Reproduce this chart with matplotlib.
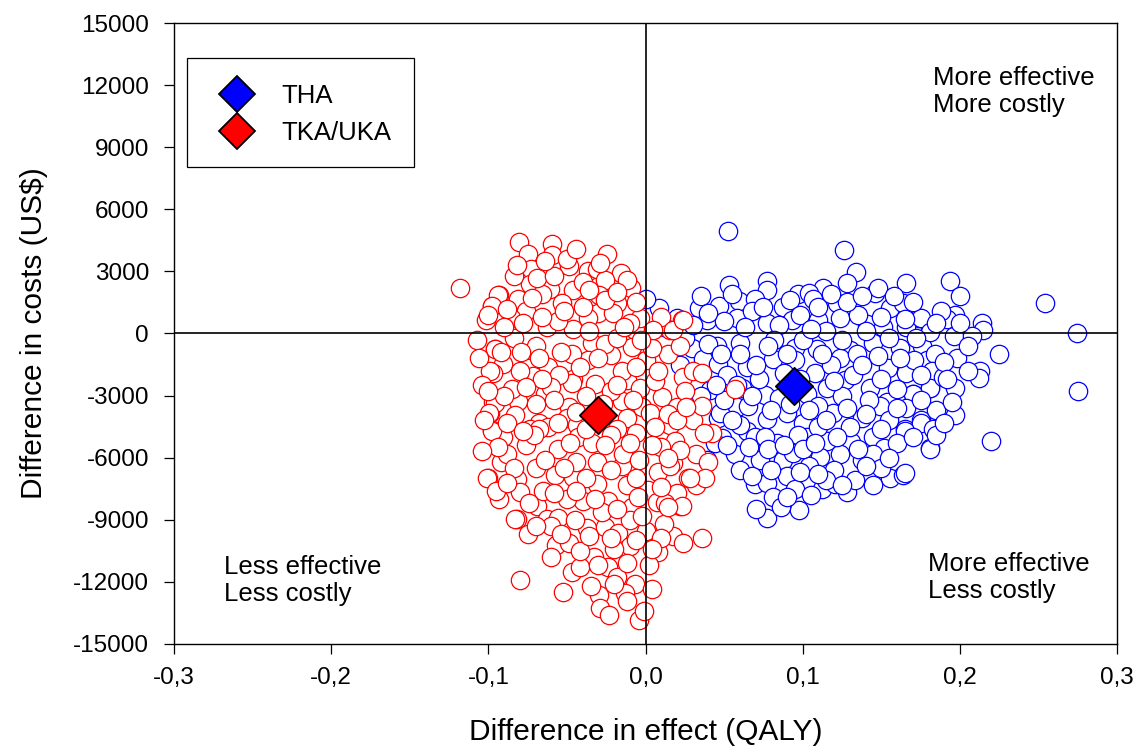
import numpy as np
import matplotlib
matplotlib.use('Agg')
import matplotlib.pyplot as plt
from matplotlib.lines import Line2D
from matplotlib.patches import Rectangle
from matplotlib.ticker import FuncFormatter

plt.rcParams['font.family'] = ['Liberation Sans', 'DejaVu Sans']

# bootstrap replicates: (difference in QALY, difference in cost US$)
tka_points = [
    (-0.0805, 4400), (-0.0595, 4300), (-0.075, 3860), (-0.0595, 3770), (-0.0245, 3860),
    (-0.0487, 3240), (-0.073, 3140), (-0.0366, 3040), (-0.031, 3140), (-0.0156, 2900),
    (-0.0258, 2600), (-0.0735, 2400), (-0.118, 2220), (-0.093, 1840), (-0.081, 1690),
    (-0.061, 2170), (-0.046, 2080), (-0.0296, 1880), (-0.009, 2220), (-0.0976, 1350),
    (-0.076, 1110), (-0.053, 1450), (-0.030, 970), (-0.018, 1450), (-0.1015, 630),
    (-0.0856, 770), (-0.063, 290), (-0.046, 240), (-0.0366, 770), (-0.0067, 145),
    (-0.0035, 770), (0.0156, 145), (0.023, 630), (-0.0957, -725), (-0.0837, -240),
    (-0.070, -580), (-0.034, -435), (-0.0086, -630), (-0.097, -1400), (-0.0907, -1450),
    (-0.075, -1690), (-0.062, -1640), (-0.046, -2220), (-0.0366, -1300), (-0.022, -1060),
    (0.000, -1300), (0.014, -970), (0.024, -2120), (-0.097, -1930), (-0.0716, -2030),
    (-0.062, -2510), (-0.047, -2370), (-0.032, -2420), (-0.0118, -2270), (-0.0035, -2610),
    (-0.097, -3330), (-0.081, -3240), (-0.064, -2900), (-0.049, -3570), (-0.015, -3240),
    (-0.002, -3570), (0.003, -3860), (0.0105, -3090), (0.020, -3570), (-0.099, -3860),
    (-0.083, -3960), (-0.068, -4300), (-0.050, -4100), (-0.0118, -4060), (-0.097, -4690),
    (-0.0735, -4590), (-0.062, -4540), (-0.0436, -4440), (-0.018, -4590), (0.0156, -4440),
    (-0.0976, -4640), (-0.0907, -5020), (-0.068, -4590), (-0.043, -5020), (-0.031, -6230),
    (-0.015, -6380), (-0.0143, -5840), (0.0188, -5170), (0.0175, -6280), (0.027, -6960),
    (-0.092, -6230), (-0.100, -6960), (-0.082, -7050), (-0.070, -6520), (-0.0576, -6860),
    (-0.046, -6910), (-0.031, -7250), (-0.0118, -7340), (0.0016, -7580), (0.0073, -8160),
    (0.022, -8310), (-0.080, -7680), (-0.069, -8310), (-0.040, -8070), (-0.024, -8070),
    (-0.0086, -8400), (-0.082, -8940), (-0.0627, -8940), (-0.0557, -8890), (-0.037, -9420),
    (-0.026, -9370), (-0.0175, -9660), (-0.010, -10290), (0.000, -9520), (0.008, -10580),
    (0.0175, -9760), (0.024, -10140), (-0.057, -10240), (-0.049, -10100), (-0.033, -10820),
    (-0.047, -11540), (-0.042, -11300), (-0.024, -11300), (-0.018, -11780), (-0.0067, -12080),
    (0.0041, -12320), (-0.080, -11930), (-0.0525, -12510), (-0.0296, -12650), (-0.013, -12560),
    (-0.029, -13280), (-0.023, -13620), (-0.004, -13860), (-0.001, -13430),
    (-0.094, 1840), (-0.098, 1350), (-0.096, -725), (-0.099, -1790), (-0.096, -3380),
    (-0.0996, -3860), (-0.0977, -4690), (-0.101, -6960), (-0.083, -8940),
    (-0.088, 1200), (-0.066, 1900), (-0.040, 2500), (-0.021, 1000), (-0.010, 500),
    (-0.056, 600), (-0.079, -900), (-0.047, -1000), (-0.026, -500), (-0.015, -1800),
    (0.006, -2300), (-0.085, -2700), (-0.055, -2000), (-0.038, -3000), (-0.022, -2800),
    (-0.006, -4800), (0.010, -5500), (0.030, -4200), (0.032, -5800), (-0.088, -5800),
    (-0.076, -5400), (-0.056, -5600), (-0.034, -5300), (-0.022, -4900), (-0.004, -6100),
    (0.008, -6700), (-0.065, -7600), (-0.050, -8000), (-0.028, -8600), (-0.010, -9000),
    (0.012, -9200), (-0.075, -9700), (-0.042, -10500), (-0.020, -10400), (-0.060, -9300),
    (0.002, -11200), (-0.012, -12900), (-0.035, -12200), (-0.093, -8000), (-0.071, -4900),
    (-0.044, -6200), (-0.060, -2600), (-0.068, -1200), (-0.036, 100), (-0.018, -200),
    (0.004, -700), (0.025, -2800), (0.014, -3900), (-0.006, 1500), (0.010, 800),
    (-0.050, 3600), (-0.029, 3400), (-0.012, 2600), (-0.069, 2700), (-0.084, 2800),
    (-0.100, 900), (-0.107, -300), (-0.104, -2500), (-0.103, -4200), (-0.095, -7600),
    (-0.045, -9000), (-0.005, -7900), (0.020, -7700), (0.032, -7300), (0.040, -6200),
    (0.042, -4800), (0.036, -3500), (0.030, -1800), (0.022, -600), (0.057, -2700),
    (0.005, 145), (0.0175, 145), (0.024, 630), (0.036, -1930), (0.037, -4830),
    (0.038, -6960), (0.028, -6960), (0.020, -4200), (0.022, -5650), (0.026, -3570),
    (0.0156, -6380), (0.0124, -8210), (0.023, -8310), (0.036, -9880),
    (-0.090, 300), (-0.078, 500), (-0.066, 800), (-0.052, 1100), (-0.040, 1300),
    (-0.026, 1600), (-0.014, 300), (-0.003, -300), (-0.092, -900), (-0.080, -1800),
    (-0.066, -2200), (-0.054, -900), (-0.042, -1600), (-0.030, -1200), (-0.018, -2500),
    (-0.006, -1600), (0.008, -1800), (-0.090, -3000), (-0.076, -2600), (-0.070, -3400),
    (-0.058, -3200), (-0.044, -3800), (-0.027, -3400), (-0.008, -3200), (0.006, -4500),
    (-0.088, -4300), (-0.078, -4700), (-0.056, -4300), (-0.048, -5300), (-0.038, -4600),
    (-0.026, -5400), (-0.010, -5300), (0.004, -5400), (0.014, -6000), (-0.094, -5500),
    (-0.084, -6500), (-0.064, -6100), (-0.052, -6500), (-0.038, -7000), (-0.022, -6600),
    (-0.006, -7000), (0.010, -7400), (-0.088, -7200), (-0.074, -8200), (-0.058, -7700),
    (-0.044, -7600), (-0.032, -8000), (-0.018, -8500), (-0.002, -8800), (0.014, -8400),
    (-0.070, -9300), (-0.054, -9700), (-0.036, -9800), (-0.022, -9900), (-0.006, -10000),
    (0.010, -9900), (-0.060, -10800), (-0.030, -11200), (-0.012, -11100), (0.004, -10400),
    (-0.020, -12100), (-0.072, 1700), (-0.058, 2800), (-0.036, 2100), (-0.018, 2000),
    (-0.082, 3300), (-0.064, 3500), (-0.044, 4100), (-0.100, -2800), (-0.106, -1200),
    (-0.104, -5700),
]

tha_points = [
    (0.0525, 4930), (0.126, 4010), (0.134, 2950), (0.128, 2460), (0.166, 2460),
    (0.146, 1980), (0.148, 2220), (0.077, 2560), (0.053, 2320), (0.113, 2220),
    (0.097, 1930), (0.104, 1980), (0.077, 2080), (0.0595, 1590), (0.034, 1210),
    (0.0086, 1210), (0.000, 1690), (0.047, 1350), (0.0696, 1690), (0.0875, 1260),
    (0.1066, 1690), (0.122, 1450), (0.1556, 1210), (0.164, 1450), (0.174, 770),
    (0.181, 145), (0.020, 770), (0.039, 630), (0.058, 770), (0.077, 530),
    (0.093, 630), (0.110, 630), (0.124, 770), (0.141, 480), (0.151, 290),
    (0.166, 290), (0.0295, -680), (0.0455, -580), (0.060, -480), (0.082, -725),
    (0.095, -680), (0.109, -725), (0.130, -820), (0.145, -480), (0.162, -680),
    (0.176, -580), (0.0366, -1210), (0.046, -1450), (0.0646, -1640), (0.081, -1210),
    (0.095, -1300), (0.108, -1930), (0.124, -1160), (0.1345, -970), (0.154, -1690),
    (0.166, -1930), (0.179, -1300), (0.181, -2610), (0.170, -2900), (0.041, -2750),
    (0.0614, -2610), (0.076, -2990), (0.1155, -2610), (0.127, -2270), (0.143, -2610),
    (0.1535, -3330), (0.046, -4060), (0.058, -3570), (0.077, -4110), (0.090, -3860),
    (0.100, -4300), (0.119, -3860), (0.138, -4060), (0.149, -3480), (0.175, -4200),
    (0.165, -4590), (0.0487, -5070), (0.0646, -4690), (0.0696, -5020), (0.0837, -5310),
    (0.1027, -5020), (0.1155, -5170), (0.131, -5260), (0.145, -5020), (0.152, -5550),
    (0.181, -5550), (0.057, -5800), (0.073, -6130), (0.0875, -6130), (0.094, -5750),
    (0.111, -5990), (0.124, -5800), (0.138, -6130), (0.0696, -7250), (0.077, -7200),
    (0.081, -7920), (0.112, -7490), (0.1205, -7250), (0.128, -7680), (0.1556, -7000),
    (0.164, -6860), (0.0976, -8550), (0.077, -8890), (0.0474, -3860), (0.044, -5310),
    (0.039, -6130),
    (0.194, 2560), (0.254, 1450), (0.2745, 0), (0.275, -2800), (0.214, 530),
    (0.215, 190), (0.197, 870), (0.192, 680), (0.175, 770), (0.181, 50),
    (0.196, -100), (0.208, -145), (0.225, -1010), (0.198, -1160), (0.184, -970),
    (0.171, -1300), (0.182, -1790), (0.213, -1790), (0.2125, -2170), (0.197, -2610),
    (0.181, -2610), (0.170, -2900), (0.189, -2120), (0.166, -3620), (0.185, -3720),
    (0.197, -3960), (0.175, -4300), (0.183, -4590), (0.165, -4690), (0.220, -5170),
    (0.181, -5600), (0.165, -6760),
    (0.012, 300), (0.025, -200), (0.035, 1800), (0.050, 600), (0.068, 1100),
    (0.085, 400), (0.100, -300), (0.115, 100), (0.135, 900), (0.155, -200),
    (0.170, 1500), (0.188, 1100), (0.200, 1800), (0.060, -1000), (0.072, -2200),
    (0.088, -1900), (0.103, -2900), (0.118, -1500), (0.132, -2000), (0.148, -1100),
    (0.160, -2700), (0.052, -2000), (0.035, -3000), (0.065, -3500), (0.085, -3100),
    (0.110, -3500), (0.125, -3000), (0.142, -3200), (0.155, -4200), (0.097, -4900),
    (0.076, -5000), (0.060, -4400), (0.110, -4500), (0.130, -4500), (0.145, -5800),
    (0.120, -6600), (0.104, -6400), (0.090, -6900), (0.060, -6600), (0.050, -3200),
    (0.040, -500), (0.022, -1500), (0.030, 400), (0.110, 1300), (0.092, 1600),
    (0.128, 1500), (0.140, 100), (0.165, 700), (0.175, -3200), (0.190, -1400),
    (0.205, -600), (0.200, 500), (0.185, -4900), (0.195, -3300), (0.160, -5300),
    (0.150, -6500), (0.133, -7100), (0.115, -7100), (0.095, -7500), (0.086, -8400),
    (0.070, -8500),
    (0.040, 1000), (0.055, 1900), (0.063, 300), (0.075, 1300), (0.082, -300),
    (0.098, 900), (0.105, 200), (0.118, 1900), (0.125, -300), (0.138, 1800),
    (0.150, 800), (0.158, 1800), (0.172, -200), (0.185, 500), (0.048, -1000),
    (0.058, -2500), (0.070, -1500), (0.078, -600), (0.090, -1000), (0.098, -2200),
    (0.112, -1000), (0.120, -2300), (0.138, -1500), (0.150, -2200), (0.162, -1200),
    (0.175, -2000), (0.192, -2200), (0.205, -1800), (0.045, -2500), (0.055, -4200),
    (0.068, -3000), (0.080, -3700), (0.092, -3400), (0.104, -3700), (0.115, -4200),
    (0.128, -3600), (0.140, -3900), (0.150, -4600), (0.160, -3600), (0.170, -5000),
    (0.190, -4300), (0.052, -5400), (0.066, -5500), (0.078, -5600), (0.088, -5400),
    (0.100, -5600), (0.108, -5300), (0.122, -5000), (0.135, -5600), (0.140, -6400),
    (0.155, -6000), (0.068, -6900), (0.080, -6600), (0.098, -6700), (0.110, -6800),
    (0.125, -7300), (0.105, -7800), (0.090, -7900), (0.145, -7300),
]

# mean differences
tha_mean = (0.0945, -2560)
tka_mean = (-0.0302, -3960)

x_ticks = [-0.3, -0.2, -0.1, 0.0, 0.1, 0.2, 0.3]
y_ticks = [-15000, -12000, -9000, -6000, -3000, 0, 3000, 6000, 9000, 12000, 15000]

tka = np.array(tka_points)
tha = np.array(tha_points)

fig = plt.figure(figsize=(11.39, 7.47), dpi=100)
ax = fig.add_axes([0.1528, 0.1379, 0.8279, 0.8313])

ax.scatter(tha[:, 0], tha[:, 1], s=175, facecolors='white', edgecolors='#0000ff',
           linewidths=0.9, zorder=2)
ax.scatter(tka[:, 0], tka[:, 1], s=175, facecolors='white', edgecolors='#ff0000',
           linewidths=0.9, zorder=3)

# quadrant lines
ax.axhline(0, color='black', lw=1.2, zorder=4)
ax.axvline(0, color='black', lw=1.2, zorder=4)

ax.scatter([tha_mean[0]], [tha_mean[1]], marker='D', s=360, facecolors='#0000ff',
           edgecolors='black', linewidths=1.3, zorder=5)
ax.scatter([tka_mean[0]], [tka_mean[1]], marker='D', s=360, facecolors='#ff0000',
           edgecolors='black', linewidths=1.3, zorder=5)

ax.set_xlim(-0.3, 0.3)
ax.set_ylim(-15000, 15000)
ax.set_xticks(x_ticks)
ax.set_yticks(y_ticks)
ax.xaxis.set_major_formatter(FuncFormatter(lambda v, p: f'{v:.1f}'.replace('.', ',')))
ax.yaxis.set_major_formatter(FuncFormatter(lambda v, p: f'{int(round(v))}'))
ax.tick_params(direction='out', length=7, width=0.9, labelsize=17.5)
ax.tick_params(axis='x', pad=9.5)
ax.tick_params(axis='y', pad=11)
for sp in ax.spines.values():
    sp.set_linewidth(1.0)

ax.set_xlabel('Difference in effect (QALY)', fontsize=21.5, labelpad=21)
ax.set_ylabel('Difference in costs (US$)', fontsize=21.5, labelpad=18)

quad_font = 18.5
ax.text(0.183, 11690, 'More effective\nMore costly', fontsize=quad_font,
        va='center', ha='left', linespacing=1.15)
ax.text(-0.268, -11930, 'Less effective\nLess costly', fontsize=quad_font,
        va='center', ha='left', linespacing=1.15)
ax.text(0.1797, -11790, 'More effective\nLess costly', fontsize=quad_font,
        va='center', ha='left', linespacing=1.15)

# legend box drawn separately so the rows can sit where they do in the original
ax.add_patch(Rectangle((0.0138, 0.7681), 0.2407, 0.1755, transform=ax.transAxes,
                       facecolor='white', edgecolor='black', lw=0.9, zorder=6))
handles = [
    Line2D([], [], ls='none', marker='D', markersize=18, markerfacecolor='#0000ff',
           markeredgecolor='black', markeredgewidth=1.3, label='THA'),
    Line2D([], [], ls='none', marker='D', markersize=18, markerfacecolor='#ff0000',
           markeredgecolor='black', markeredgewidth=1.3, label='TKA/UKA'),
]
leg = ax.legend(handles=handles, loc='upper left', bbox_to_anchor=(0.0138, 0.9398),
                borderaxespad=0, fontsize=18.5, frameon=False, borderpad=0.93,
                labelspacing=0.5, handlelength=2.02, handletextpad=0.74)
leg.set_zorder(7)

fig.savefig('out.png', dpi=100)
